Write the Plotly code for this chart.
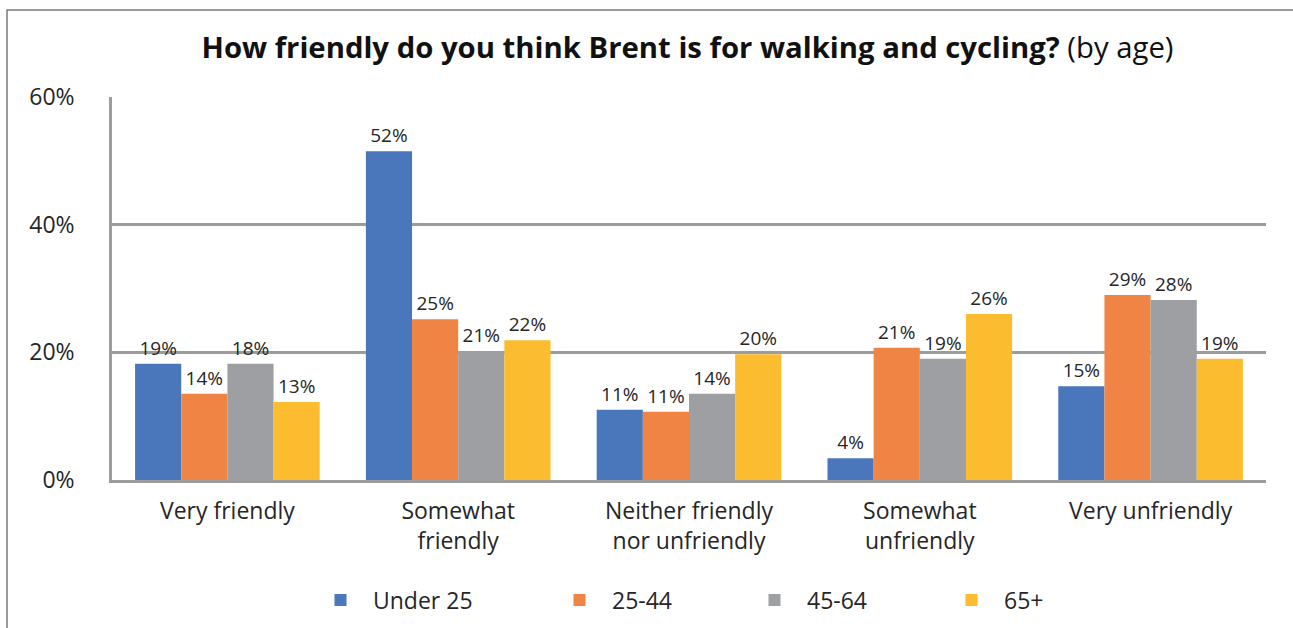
import plotly.graph_objects as go

categories = ["Very friendly", "Somewhat<br>friendly", "Neither friendly<br>nor unfriendly",
              "Somewhat<br>unfriendly", "Very unfriendly"]
series_names = ["Under 25", "25-44", "45-64", "65+"]
under_25 = [18.2, 51.5, 11.0, 3.4, 14.7]
age_25_44 = [13.5, 25.2, 10.7, 20.7, 29.0]
age_45_64 = [18.2, 20.2, 13.5, 19.0, 28.2]
age_65_plus = [12.2, 21.9, 19.7, 26.0, 19.0]
labels_under_25 = ["19%", "52%", "11%", "4%", "15%"]
labels_25_44 = ["14%", "25%", "11%", "21%", "29%"]
labels_45_64 = ["18%", "21%", "14%", "19%", "28%"]
labels_65_plus = ["13%", "22%", "20%", "26%", "19%"]
y_tick_values = [0, 20, 40, 60]
y_tick_labels = ["0%", "20%", "40%", "60%"]

colors = ["#4A76BB", "#F08444", "#9E9FA2", "#FBBC30"]
values = [under_25, age_25_44, age_45_64, age_65_plus]
texts = [labels_under_25, labels_25_44, labels_45_64, labels_65_plus]
FONT = "Open Sans"
legend_x = [333, 572, 767, 964]
W, H = 1293, 628
L, R, T, B = 112, 27, 97, 148
PW, PH = W - L - R, H - T - B

fig = go.Figure()
for i, (name, vals, txt, col) in enumerate(zip(series_names, values, texts, colors)):
    fig.add_trace(go.Bar(
        x=categories, y=vals, name=name, text=txt,
        textposition="outside", cliponaxis=False,
        textfont=dict(family=FONT, size=19, color="#262626"),
        marker=dict(color=col, line=dict(width=0)),
        legend="legend" if i == 0 else f"legend{i+1}",
    ))

layout_legends = {}
for i, lx in enumerate(legend_x):
    key = "legend" if i == 0 else f"legend{i+1}"
    layout_legends[key] = dict(
        x=(lx - 25) / W, xanchor="left", xref="container",
        y=1 - 600 / H, yanchor="middle", yref="container",
        orientation="h", font=dict(family=FONT, size=23, color="#262626"),
        bgcolor="rgba(0,0,0,0)", itemwidth=55,
    )

fig.update_layout(
    width=W, height=H,
    margin=dict(l=L, r=R, t=T, b=B, autoexpand=False),
    paper_bgcolor="white", plot_bgcolor="white",
    barmode="group", bargap=0.2, bargroupgap=0,
    font=dict(family=FONT, size=23, color="#262626"),
    title=dict(
        text="<b>How friendly do you think Brent is for walking and cycling?</b> (by age)",
        x=687.5 / W, xanchor="center", xref="container",
        y=1 - 48 / H, yanchor="middle", yref="container",
        font=dict(family=FONT, size=29.3, color="#111111"),
    ),
    yaxis=dict(
        range=[0, 60], tickvals=y_tick_values, ticktext=y_tick_labels,
        showgrid=True, gridcolor="#9C9C9C", gridwidth=2.5,
        showline=True, linecolor="#9C9C9C", linewidth=2.5,
        zeroline=False, ticks="", ticklabelstandoff=30,
        tickfont=dict(family=FONT, size=23, color="#262626"),
    ),
    xaxis=dict(
        showline=True, linecolor="#9C9C9C", linewidth=2.5,
        ticks="", ticklabelstandoff=9,
        tickfont=dict(family=FONT, size=23, color="#262626"),
    ),
    showlegend=True,
    **layout_legends,
)

# outer frame (cropped box border)
fx = (7 - L) / PW
fy = 1 + (T - 10) / PH
fig.add_shape(type="path", xref="paper", yref="paper",
              path=f"M {fx} {-(B + 10) / PH} L {fx} {fy} L {(W + 5 - L) / PW} {fy}",
              line=dict(color="#7A7A7A", width=1.5))

fig.write_html("out.html", config={"displayModeBar": False},
               post_script="document.body.style.margin='0';")
